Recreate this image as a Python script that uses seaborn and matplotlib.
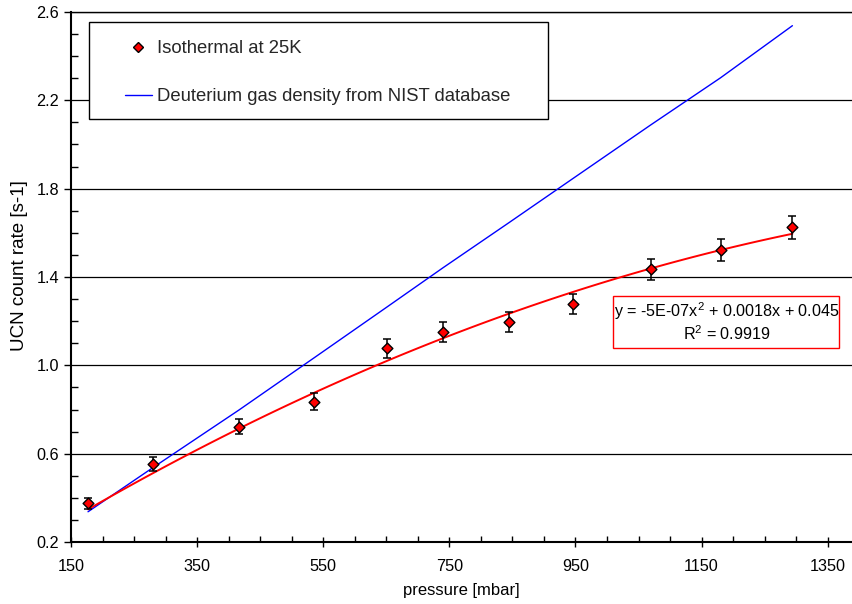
import numpy as np
import pandas as pd
import matplotlib
matplotlib.use("Agg")
import matplotlib.pyplot as plt
import seaborn as sns
from matplotlib.patches import Rectangle
from matplotlib.lines import Line2D

# ---- data ----
pressure = [177, 280, 416, 536, 651, 740, 845, 946, 1069, 1180, 1294]
ucn_rate = [0.375, 0.552, 0.722, 0.835, 1.077, 1.149, 1.196, 1.278, 1.435, 1.522, 1.625]
ucn_err = [0.026, 0.032, 0.035, 0.038, 0.043, 0.045, 0.046, 0.047, 0.048, 0.050, 0.053]
nist_density = [0.337, 0.537, 0.797, 1.035, 1.264, 1.442, 1.647, 1.846, 2.088, 2.302, 2.538]
# values read along the red (polynomial trend) curve
trend_pressure = [177, 275, 416, 508, 582, 767, 799, 957, 989, 1069, 1132, 1180, 1294]
trend_rate = [0.345, 0.518, 0.695, 0.843, 0.933, 1.157, 1.190, 1.341, 1.368, 1.442, 1.485, 1.525, 1.593]
x_ticks = [150, 350, 550, 750, 950, 1150, 1350]
y_ticks = [0.2, 0.6, 1.0, 1.4, 1.8, 2.2, 2.6]
legend_labels = ["Isothermal at 25K", "Deuterium gas density from NIST database"]
fit_text = ["y = -5E-07x$^2$ + 0.0018x + 0.045", "R$^2$ = 0.9919"]

df = pd.DataFrame({"pressure": pressure, "rate": ucn_rate, "err": ucn_err, "nist": nist_density})
trend = pd.DataFrame({"pressure": trend_pressure, "rate": trend_rate})

sns.set_theme(style="white")
plt.rcParams["font.family"] = ["Liberation Sans", "DejaVu Sans"]
plt.rcParams["mathtext.fontset"] = "custom"
plt.rcParams["mathtext.rm"] = "Liberation Sans"
plt.rcParams["mathtext.it"] = "Liberation Sans"

W, H = 852, 604
fig = plt.figure(figsize=(W / 100, H / 100), dpi=100)
L, R, T, B = 71, 852, 12, 542
ax = fig.add_axes([L / W, 1 - B / H, (R - L) / W, (B - T) / H])

ax.set_xlim(150, 150 + (R - L) / 0.6306)
ax.set_ylim(0.2, 2.6)

# grid
ax.set_axisbelow(True)
ax.set_yticks(y_ticks)
ax.set_yticklabels([f"{v:.1f}" for v in y_ticks])
ax.set_yticks(np.arange(0.2, 2.61, 0.1), minor=True)
ax.set_xticks(x_ticks)
ax.set_xticklabels([str(v) for v in x_ticks])
ax.set_xticks(np.arange(150, 1390, 50), minor=True)
ax.grid(axis="y", which="major", color="black", lw=0.9)
ax.grid(axis="x", visible=False)

# NIST line
sns.lineplot(data=df, x="pressure", y="nist", color="#0000ff", lw=1.0, ax=ax, zorder=2)
# quadratic trend line
sns.regplot(data=trend, x="pressure", y="rate", order=2, ci=None, scatter=False, truncate=True,
            line_kws=dict(color="#ff0000", lw=1.4, zorder=2), ax=ax)
# error bars
ax.errorbar(df["pressure"], df["rate"], yerr=df["err"], fmt="none", ecolor="black",
            elinewidth=1.1, capsize=3.0, capthick=1.1, zorder=3)
# markers
sns.scatterplot(data=df, x="pressure", y="rate", marker="D", s=30, color="#ff0000",
                edgecolor="black", linewidth=1.0, zorder=4, ax=ax)

# spines & ticks
for s in ["left", "bottom"]:
    ax.spines[s].set_color("black")
    ax.spines[s].set_linewidth(1.5)
ax.spines["top"].set_color("black")
ax.spines["top"].set_linewidth(1.0)
ax.spines["right"].set_visible(False)
ax.tick_params(axis="y", which="major", direction="out", length=5, width=1, colors="black",
               labelsize=11.7, pad=3.6, left=True)
ax.tick_params(axis="y", which="minor", direction="in", length=5, width=1, color="black", left=True)
ax.tick_params(axis="x", which="major", direction="inout", length=7, width=1, colors="black",
               labelsize=11.7, pad=9, bottom=True)
ax.tick_params(axis="x", which="minor", direction="in", length=4, width=1, color="black", bottom=True)

ax.set_xlabel("pressure [mbar]", fontsize=12, color="black", labelpad=6)
ax.set_ylabel("UCN count rate [s-1]", fontsize=13.5, color="black")
ax.yaxis.set_label_coords((28.5 - L) / (R - L), (B - 266) / (B - T))

# legend box
ax.add_patch(Rectangle(((88.7 - L) / (R - L), (B - 119) / (B - T)), (548 - 88.7) / (R - L),
                       (119 - 22.3) / (B - T), transform=ax.transAxes, facecolor="white",
                       edgecolor="black", lw=1.0, zorder=5))
handles = [Line2D([], [], marker="D", color="#ff0000", mec="black", mew=1.0, ms=5.2, ls="none"),
           Line2D([], [], color="#0000ff", lw=1.0)]
leg = ax.legend(handles, legend_labels, loc="upper left",
                bbox_to_anchor=((125 - L) / (R - L), (B - 40) / (B - T)),
                frameon=False, handlelength=1.44, handletextpad=0.27, labelspacing=1.68,
                borderpad=0, borderaxespad=0, fontsize=13.3)
leg.set_zorder(6)

# fit equation box
ax.add_patch(Rectangle(((613.3 - L) / (R - L), (B - 348.3) / (B - T)), 226 / (R - L),
                       52.6 / (B - T), transform=ax.transAxes, facecolor="white",
                       edgecolor="#ff0000", lw=1.0, zorder=5))
cx = (726.3 - L) / (R - L)
ax.text(cx, (B - 311) / (B - T), fit_text[0], transform=ax.transAxes, ha="center", va="center",
        fontsize=11.6, color="black", zorder=6)
ax.text(cx, (B - 333.5) / (B - T), fit_text[1], transform=ax.transAxes, ha="center", va="center",
        fontsize=11.6, color="black", zorder=6)

fig.savefig("out.png", dpi=100)
